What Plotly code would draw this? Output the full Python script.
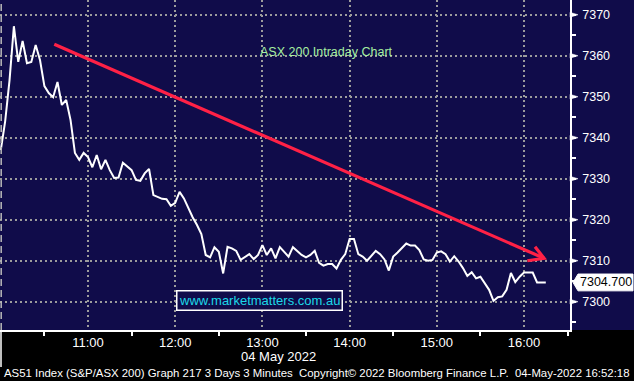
import plotly.graph_objects as go
import pandas as pd

# ---- data ----
close = [
    7337.0, 7344.0, 7354.0, 7367.2, 7358.5, 7363.6, 7358.2, 7358.5, 7362.6, 7358.9,
    7352.6, 7350.9, 7349.9, 7353.6, 7348.0, 7349.2, 7344.3, 7336.3, 7334.6, 7336.3,
    7335.3, 7332.8, 7335.8, 7332.3, 7334.6, 7332.1, 7330.2, 7330.3, 7333.9, 7332.9,
    7332.1, 7329.7, 7329.5, 7331.3, 7332.4, 7326.0, 7325.5, 7325.1, 7325.0, 7323.4,
    7324.1, 7326.8, 7325.2, 7322.8, 7320.6, 7318.7, 7316.5, 7311.4, 7310.8, 7313.3,
    7312.2, 7306.9, 7313.4, 7313.0, 7312.4, 7310.2, 7310.8, 7311.6, 7310.4, 7311.4,
    7313.8, 7311.4, 7313.0, 7310.6, 7313.3, 7312.2, 7311.0, 7313.3, 7312.4, 7311.4,
    7310.8, 7311.4, 7312.4, 7309.5, 7308.8, 7309.2, 7309.2, 7308.1, 7310.2, 7311.6,
    7315.3, 7315.3, 7311.6, 7311.0, 7310.0, 7311.2, 7312.4, 7311.6, 7310.3, 7307.6,
    7311.0, 7312.0, 7313.0, 7314.2, 7313.7, 7313.7, 7312.6, 7310.3, 7310.0, 7310.2,
    7312.0, 7312.3, 7311.6, 7309.8, 7311.1, 7309.8, 7308.2, 7306.3, 7307.2, 7305.7,
    7306.1, 7304.5, 7302.9, 7300.2, 7301.1, 7301.3, 7302.9, 7307.0, 7304.8, 7306.1,
    7307.1, 7307.1, 7307.1, 7304.7, 7304.7, 7304.7,
]
start_time = "2022-05-04 10:00"
interval = "3min"
times = pd.date_range(start_time, periods=len(close), freq=interval)

y_ticks = [7300, 7310, 7320, 7330, 7340, 7350, 7360, 7370]
x_ticks = ["2022-05-04 11:00", "2022-05-04 12:00", "2022-05-04 13:00",
           "2022-05-04 14:00", "2022-05-04 15:00", "2022-05-04 16:00"]
x_tick_text = ["11:00", "12:00", "13:00", "14:00", "15:00", "16:00"]
x_minor = ["2022-05-04 10:30", "2022-05-04 11:30", "2022-05-04 12:30", "2022-05-04 13:30",
           "2022-05-04 14:30", "2022-05-04 15:30", "2022-05-04 16:30"]

# trend arrow (annotation)
arrow_shaft_x = ["2022-05-04 10:36:48", "2022-05-04 16:13:48"]
arrow_shaft_y = [7362.8, 7310.6]
arrow_head_x = ["2022-05-04 16:07:35", "2022-05-04 16:13:48", "2022-05-04 16:02:17"]
arrow_head_y = [7313.4, 7310.6, 7310.0]

title_text = "ASX 200 Intraday Chart"
watermark = "www.marketmatters.com.au"
date_label = "04 May 2022"
footer = ("AS51 Index (S&P/ASX 200) Graph 217 3 Days 3 Minutes  "
          "Copyright\u00a9 2022 Bloomberg Finance L.P.  04-May-2022 16:52:18")

NAVY = "#100c4a"
RED = "#ff2146"
FONT = "Liberation Sans, Arial, sans-serif"

fig = go.Figure()
fig.add_trace(go.Scatter(x=times, y=close, mode="lines",
                         line=dict(color="white", width=2), hoverinfo="skip"))
fig.add_trace(go.Scatter(x=arrow_shaft_x, y=arrow_shaft_y, mode="lines",
                         line=dict(color=RED, width=3.2), hoverinfo="skip"))
fig.add_trace(go.Scatter(x=arrow_head_x, y=arrow_head_y, mode="lines",
                         line=dict(color=RED, width=3.2), hoverinfo="skip"))

W, H = 634, 381
PL, PR, PB = 0, 64, 51
pw = W - PL - PR   # 570
ph = H - PB        # 330

shapes = []
# navy strip behind right axis
shapes.append(dict(type="rect", xref="paper", yref="paper", x0=1, x1=W / pw, y0=0, y1=1,
                   fillcolor=NAVY, line=dict(width=0), layer="below"))
# day separator dashed line at left
shapes.append(dict(type="line", xref="paper", yref="paper", x0=1.2 / pw, x1=1.2 / pw, y0=0, y1=1,
                   line=dict(color="#b8b8b8", width=1.5, dash="7px,4px")))
# left white border below axis
shapes.append(dict(type="line", xref="paper", yref="paper", x0=1 / pw, x1=1 / pw, y0=0, y1=-37 / ph,
                   line=dict(color="white", width=1.5)))
# triangle tick markers
for v in y_ticks:
    shapes.append(dict(type="path", xref="paper", yref="y",
                       path=f"M 1.0,{v + 0.6} L {1 + 8 / pw},{v} L 1.0,{v - 0.6} Z",
                       fillcolor="white", line=dict(color="white", width=0.5)))
# last value label box
last = close[-1]
bx0, bx1, tip = 1 + 8 / pw, 1 + 63 / pw, 1 + 3 / pw
hh = 2.05
shapes.append(dict(type="path", xref="paper", yref="y",
                   path=(f"M {tip},{last} L {bx0},{last + hh} L {bx1},{last + hh} "
                         f"L {bx1},{last - hh} L {bx0},{last - hh} Z"),
                   fillcolor="white", line=dict(color="white", width=1)))

annotations = [
    dict(text=title_text, xref="paper", yref="paper", x=326 / pw, y=1 - 51.7 / ph,
         xanchor="center", yanchor="middle",
         showarrow=False, font=dict(family=FONT, size=12.5, color="#a6f0a0")),
    dict(text=watermark, xref="paper", yref="paper", x=259 / pw, y=1 - 300.5 / ph,
         xanchor="center", yanchor="middle",
         showarrow=False, font=dict(family=FONT, size=13, color="#1cd8e8"),
         bordercolor="white", borderwidth=1.5, borderpad=1.5, bgcolor=NAVY),
    dict(text=f"{last:.3f}", xref="paper", yref="y", x=606 / pw, y=last,
         xanchor="center", yanchor="middle",
         showarrow=False, font=dict(family=FONT, size=12.5, color="black")),
    dict(text=date_label, xref="paper", yref="paper", x=278 / pw, y=-(356.5 - ph) / ph,
         xanchor="center", yanchor="middle",
         showarrow=False, font=dict(family=FONT, size=13, color="white")),
    dict(text=footer, xref="paper", yref="paper", x=2 / pw, y=-(373 - ph) / ph,
         xanchor="left", yanchor="middle",
         showarrow=False, font=dict(family=FONT, size=11.4, color="white")),
]

fig.update_layout(
    width=W, height=H,
    margin=dict(l=PL, r=PR, t=0, b=PB, pad=0),
    paper_bgcolor="black", plot_bgcolor=NAVY,
    showlegend=False,
    font=dict(family=FONT, color="white"),
    shapes=shapes, annotations=annotations,
    xaxis=dict(
        range=["2022-05-04 09:59:27", "2022-05-04 16:31:39"],
        tickvals=x_ticks, ticktext=x_tick_text,
        ticks="",
        tickfont=dict(family=FONT, size=13, color="white"),
        showgrid=True, gridcolor="#9c9c9c", gridwidth=2, griddash="2px,3px",
        showline=True, linecolor="white", linewidth=1.5,
        minor=dict(tickvals=x_minor, ticks="outside", ticklen=4, tickcolor="white",
                   tickwidth=1.5, showgrid=False),
        zeroline=False, fixedrange=True,
    ),
    yaxis=dict(
        side="right", range=[7293.1, 7373.6],
        tickvals=y_ticks,
        ticks="outside", ticklen=8, tickcolor="rgba(0,0,0,0)",
        tickfont=dict(family=FONT, size=12.5, color="white"),
        showgrid=True, gridcolor="#9c9c9c", gridwidth=2, griddash="2px,3px",
        showline=True, linecolor="white", linewidth=1.5,
        minor=dict(dtick=5, tick0=7295, ticks="outside", ticklen=4, tickcolor="white",
                   tickwidth=1.5, showgrid=False),
        zeroline=False, fixedrange=True,
    ),
)

fig.write_html("out.html", config={"displayModeBar": False})
